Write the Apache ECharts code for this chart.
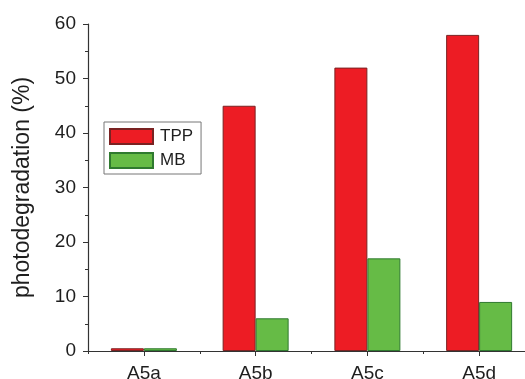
<!DOCTYPE html>
<html>
<head>
<meta charset="utf-8">
<script src="https://cdn.jsdelivr.net/npm/echarts@6/dist/echarts.min.js"></script>
<style>
  html, body { margin: 0; padding: 0; background: #fff; }
  #chart { width: 525px; height: 379px; }
</style>
</head>
<body>
<div id="chart"></div>
<script>
// Photodegradation of TPP and MB for the A5 samples
const categories = ['A5a', 'A5b', 'A5c', 'A5d'];
const tppValues = [0.5, 45, 52, 58];
const mbValues = [0.5, 6, 17, 9];
const yTicks = { min: 0, max: 60, interval: 10 };

const FONT = 'Liberation Sans, Arial, sans-serif';
const INK = '#1e1e1e';
const chart = echarts.init(document.getElementById('chart'), null, { renderer: 'canvas' });

chart.setOption({
  animation: false,
  backgroundColor: '#ffffff',
  grid: { left: 88, right: -10, top: 24, bottom: 28, containLabel: false, outerBoundsMode: 'none' },
  legend: {
    left: 104, top: 122,
    orient: 'vertical',
    icon: 'rect',
    itemWidth: 43, itemHeight: 15, itemGap: 7,
    padding: [6, 8, 5, 5],
    borderColor: '#777', borderWidth: 1,
    textStyle: { fontFamily: FONT, fontSize: 17, color: INK, padding: [0, 0, 0, 2] },
    data: ['TPP', 'MB']
  },
  xAxis: [
    {
      // labelled axis with ticks under each category
      type: 'category',
      data: categories,
      axisLine: { lineStyle: { color: '#333', width: 1.2 } },
      axisTick: { show: true, alignWithLabel: true, length: 5, lineStyle: { color: '#333' } },
      axisLabel: { fontFamily: FONT, fontSize: 19, color: INK, margin: 13 }
    },
    {
      // short ticks on the category boundaries
      type: 'category',
      data: categories,
      position: 'bottom',
      axisLine: { show: false },
      axisTick: { show: true, alignWithLabel: false, length: 3, lineStyle: { color: '#333' } },
      axisLabel: { show: false }
    }
  ],
  yAxis: {
    type: 'value',
    min: yTicks.min, max: yTicks.max, interval: yTicks.interval,
    name: 'photodegradation (%)',
    nameLocation: 'middle',
    nameGap: 54,
    nameTextStyle: { fontFamily: FONT, fontSize: 23, color: INK },
    axisLine: { show: true, lineStyle: { color: '#333', width: 1.2 } },
    axisTick: { show: true, length: 5, lineStyle: { color: '#333' } },
    minorTick: { show: true, splitNumber: 2, length: 3, lineStyle: { color: '#333' } },
    splitLine: { show: false },
    axisLabel: { fontFamily: FONT, fontSize: 19, color: INK, margin: 12 }
  },
  series: [
    {
      name: 'TPP', type: 'bar', data: tppValues, xAxisIndex: 0,
      barWidth: 33, barGap: '0%',
      itemStyle: { color: '#ED1C24', borderColor: '#7a2222', borderWidth: 1 }
    },
    {
      name: 'MB', type: 'bar', data: mbValues, xAxisIndex: 0,
      barWidth: 33, barGap: '0%',
      itemStyle: { color: '#66BB46', borderColor: '#2f7a2f', borderWidth: 1 }
    }
  ]
});
</script>
</body>
</html>
